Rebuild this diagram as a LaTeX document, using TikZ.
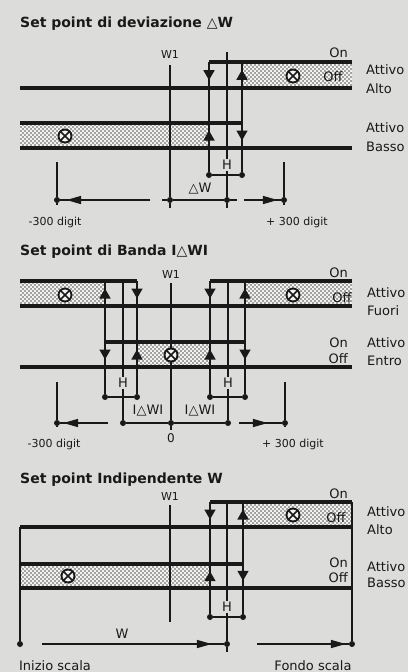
\documentclass[tikz,border=0pt]{standalone}
\usepackage{fontspec}
\setmainfont{DejaVu Sans}
\usepackage{tikz}
\usetikzlibrary{arrows.meta,patterns,decorations.markings}

\definecolor{paper}{RGB}{220,220,218}
\definecolor{bandbg}{RGB}{242,242,240}
\definecolor{ink}{RGB}{25,25,25}

% dotted fill of the active bands
\pgfdeclarepatternformonly{banddots}{\pgfqpoint{-1pt}{-1pt}}{\pgfqpoint{5pt}{5pt}}{\pgfqpoint{4pt}{4pt}}{%
  \pgfpathcircle{\pgfqpoint{1pt}{1pt}}{0.8pt}%
  \pgfpathcircle{\pgfqpoint{3pt}{3pt}}{0.8pt}%
  \pgfusepath{fill}}

\begin{document}
\begin{tikzpicture}[
    x=1pt, y=-1pt,
    signal/.style={line width=3.2pt, draw=ink},
    guide/.style={line width=1.6pt, draw=ink},
    band/.style={preaction={fill=bandbg}, pattern=banddots, pattern color=ink!75},
    lamp/.style={circle, draw=ink, line width=1.9pt, fill=bandbg, minimum size=13pt, inner sep=0pt,
        path picture={\draw[ink, line width=1.6pt] (path picture bounding box.south west) -- (path picture bounding box.north east)
            (path picture bounding box.north west) -- (path picture bounding box.south east);}},
    flow/.style={postaction=decorate, decoration={markings, mark=at position 0.7 with {\arrow[ink]{Triangle[length=10pt,width=11pt]}}}},
    scalearrow/.style={guide, postaction=decorate, decoration={markings, mark=at position #1 with {\arrow[ink]{Triangle[length=15pt,width=8pt]}}}},
    scalearrow/.default=-3pt,
    dot/.style={circle, fill=ink, inner sep=0pt, minimum size=6pt},
    title/.style={font=\fontsize{14}{16}\selectfont\bfseries, text=ink, anchor=base west, inner sep=0pt},
    side/.style={font=\fontsize{13}{15}\selectfont, text=ink, anchor=base west, inner sep=0pt},
    lbl/.style={font=\fontsize{11}{13}\selectfont, text=ink},
    hlbl/.style={lbl, font=\fontsize{13}{15}\selectfont, fill=paper, inner sep=1pt}
]
\useasboundingbox (0,0) rectangle (408,672);
\fill[paper] (0,0) rectangle (408,672);

% Set point di deviazione
\node[title] (t1) at (20,27) {Set point di deviazione {\mdseries △}W};
\path[band] (242,62) rectangle (352,88);
\path[band] (20,123) rectangle (209,148);
\node[lbl, anchor=base] (w1a) at (170,58) {W1};
\node[side, anchor=base east] (on1) at (348,57) {On};
\node[dot] (h1l) at (209,175) {};
\node[dot] (h1r) at (242,175) {};
\node[dot] (m1l) at (57,200) {};
\node[dot] (m1w) at (170,200) {};
\node[dot] (m1c) at (227,200) {};
\node[dot] (m1r) at (284,200) {};
\draw[guide] (170,65) -- (m1w) -- (170,208);
\draw[guide] (227,52) -- (m1c) -- (227,208);
\draw[guide] (209,62) -- (h1l);
\draw[guide] (242,62) -- (h1r);
\draw[guide, flow] (209,62) -- (209,88);
\draw[guide, flow] (242,88) -- (242,62);
\draw[guide, flow] (209,148) -- (209,123);
\draw[guide, flow] (242,123) -- (242,148);
\draw[signal] (209,62) -- (352,62);
\draw[signal] (20,88) -- (352,88);
\draw[signal] (20,123) -- (242,123);
\draw[signal] (20,148) -- (352,148);
\draw[guide] (h1l) -- (h1r);
\node[hlbl] (hh1) at (227,165) {H};
\draw[guide] (57,162) -- (m1l) -- (57,205);
\draw[scalearrow=-6pt] (150,200) -- (m1l);
\draw[guide] (162,200) -- (m1w) -- (m1c) -- (237,200);
\draw[scalearrow] (244,200) -- (m1r);
\draw[guide] (284,162) -- (m1r) -- (284,205);
\node[hlbl, fill=none] (dw1) at (200,189) {△W};
\node[lbl, anchor=base] (d1l) at (55,225) {-300 digit};
\node[lbl, anchor=base] (d1r) at (297,225) {+ 300 digit};
\node[lamp] (l1a) at (293,76) {};
\node[lamp] (l1b) at (65,136) {};
\node[side, anchor=base] (off1) at (333,81) {Off};
\node[side] (s1a) at (366,74) {Attivo};
\node[side] (s1b) at (366,93) {Alto};
\node[side] (s1c) at (366,132) {Attivo};
\node[side] (s1d) at (366,151) {Basso};

% Set point di Banda
\node[title] (t2) at (20,255) {Set point di Banda I{\mdseries △}WI};
\path[band] (20,281) rectangle (105,306);
\path[band] (245,281) rectangle (352,306);
\path[band] (137,342) rectangle (210,367);
\node[lbl, anchor=base] (w1b) at (171,278) {W1};
\node[side, anchor=base east] (on2a) at (348,277) {On};
\node[dot] (h2a) at (105,397) {};
\node[dot] (h2b) at (137,397) {};
\node[dot] (h2c) at (210,397) {};
\node[dot] (h2d) at (245,397) {};
\node[dot] (m2l) at (57,423) {};
\node[dot] (m2a) at (123,423) {};
\node[dot] (m2o) at (171,423) {};
\node[dot] (m2b) at (228,423) {};
\node[dot] (m2r) at (285,423) {};
\draw[guide] (105,281) -- (h2a);
\draw[guide] (137,281) -- (h2b);
\draw[guide] (210,281) -- (h2c);
\draw[guide] (245,281) -- (h2d);
\draw[guide] (123,281) -- (m2a);
\draw[guide] (228,281) -- (m2b);
\draw[guide] (171,283) -- (m2o) -- (171,430);
\draw[guide, flow] (105,306) -- (105,281);
\draw[guide, flow] (137,281) -- (137,306);
\draw[guide, flow] (210,281) -- (210,306);
\draw[guide, flow] (245,306) -- (245,281);
\draw[guide, flow] (105,342) -- (105,367);
\draw[guide, flow] (137,367) -- (137,342);
\draw[guide, flow] (210,367) -- (210,342);
\draw[guide, flow] (245,342) -- (245,367);
\draw[signal] (20,281) -- (137,281);
\draw[signal] (210,281) -- (352,281);
\draw[signal] (20,306) -- (352,306);
\draw[signal] (105,342) -- (245,342);
\draw[signal] (20,367) -- (352,367);
\draw[guide] (h2a) -- (h2b);
\draw[guide] (h2c) -- (h2d);
\node[hlbl] (hh2a) at (123,383) {H};
\node[hlbl] (hh2b) at (228,383) {H};
\draw[guide] (57,382) -- (m2l) -- (57,427);
\draw[scalearrow] (108,423) -- (m2l);
\draw[guide] (m2a) -- (m2o) -- (m2b);
\draw[scalearrow=-14pt] (239,423) -- (m2r);
\draw[guide] (285,382) -- (m2r) -- (285,427);
\node[hlbl, fill=none] (dw2a) at (148,411) {I△WI};
\node[hlbl, fill=none] (dw2b) at (200,411) {I△WI};
\node[lbl, font=\fontsize{12}{14}\selectfont] (zero) at (171,438) {0};
\node[lbl, anchor=base] (d2l) at (54,447) {-300 digit};
\node[lbl, anchor=base] (d2r) at (293,447) {+ 300 digit};
\node[lamp] (l2a) at (65,295) {};
\node[lamp] (l2b) at (293,295) {};
\node[lamp] (l2c) at (171,355) {};
\node[side, anchor=base] (off2a) at (342,302) {Off};
\node[side, anchor=base east] (on2b) at (348,347) {On};
\node[side, anchor=base east] (off2b) at (348,363) {Off};
\node[side] (s2a) at (367,297) {Attivo};
\node[side] (s2b) at (367,315) {Fuori};
\node[side] (s2c) at (367,347) {Attivo};
\node[side] (s2d) at (367,365) {Entro};

% Set point Indipendente
\node[title] (t3) at (20,483) {Set point Indipendente W};
\path[band] (243,502) rectangle (352,527);
\path[band] (20,564) rectangle (210,588);
\node[lbl, anchor=base] (w1c) at (170,500) {W1};
\node[side, anchor=base east] (on3a) at (348,498) {On};
\node[dot] (h3l) at (210,617) {};
\node[dot] (h3r) at (243,617) {};
\node[dot] (m3l) at (20,644) {};
\node[dot] (m3c) at (227,644) {};
\node[dot] (m3r) at (352,644) {};
\draw[guide] (210,502) -- (h3l);
\draw[guide] (243,502) -- (h3r);
\draw[guide] (227,502) -- (m3c) -- (227,652);
\draw[guide] (170,505) -- (170,622);
\draw[guide] (20,527) -- (m3l);
\draw[guide] (352,502) -- (m3r);
\draw[guide, flow] (210,502) -- (210,527);
\draw[guide, flow] (243,527) -- (243,502);
\draw[guide, flow] (210,588) -- (210,564);
\draw[guide, flow] (243,564) -- (243,588);
\draw[signal] (210,502) -- (352,502);
\draw[signal] (20,527) -- (352,527);
\draw[signal] (20,564) -- (243,564);
\draw[signal] (20,588) -- (352,588);
\draw[guide] (h3l) -- (h3r);
\node[hlbl] (hh3) at (227,607) {H};
\draw[scalearrow=-12pt] (42,644) -- (m3c);
\draw[scalearrow] (257,644) -- (m3r);
\node[hlbl, fill=none] (wl) at (122,634) {W};
\node[side, anchor=base] (start) at (55,670) {Inizio scala};
\node[side, anchor=base] (end) at (313,670) {Fondo scala};
\node[lamp] (l3a) at (293,515) {};
\node[lamp] (l3b) at (68,576) {};
\node[side, anchor=base] (off3a) at (336,522) {Off};
\node[side, anchor=base east] (on3b) at (348,567) {On};
\node[side, anchor=base east] (off3b) at (348,582) {Off};
\node[side] (s3a) at (367,516) {Attivo};
\node[side] (s3b) at (367,534) {Alto};
\node[side] (s3c) at (367,571) {Attivo};
\node[side] (s3d) at (367,587) {Basso};
\end{tikzpicture}
\end{document}
